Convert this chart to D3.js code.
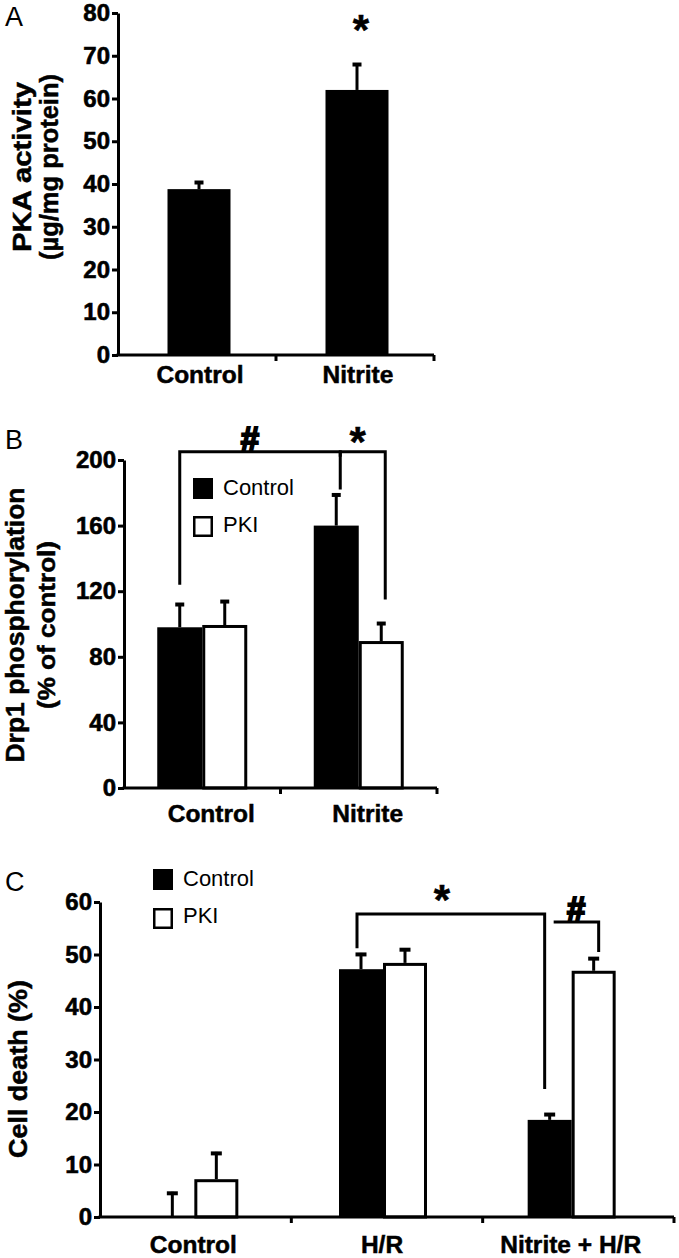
<!DOCTYPE html>
<html><head><meta charset="utf-8">
<script src="https://cdn.jsdelivr.net/npm/d3@7"></script>
<style>
body{margin:0;background:#fff}
svg{display:block}
text{font-family:"Liberation Sans",Arial,Helvetica,sans-serif}
</style>
</head><body>
<svg id="c" width="679" height="1258"></svg>
<script>
// ---------- Panel A ----------
const aCategories = ["Control", "Nitrite"];
const aValues = [38.8, 62.0];
const aErrors = [1.9, 6.3];
const aTicks = [0, 10, 20, 30, 40, 50, 60, 70, 80];
const aSig = ["", "*"];

// ---------- Panel B ----------
const bCategories = ["Control", "Nitrite"];
const bSeries = ["Control", "PKI"];
const bControl = [98.0, 160.0];
const bControlErr = [14.8, 19.6];
const bPKI = [99.4, 89.6];
const bPKIErr = [15.2, 11.6];
const bTicks = [0, 40, 80, 120, 160, 200];
// brackets: [groupIdx, seriesIdx] endpoints, level and leg-end values (data units)
const bBrackets = [
  {label: "#", from: [0, 0], to: [1, 0], level: 205, fromEnd: 124, toEnd: 182},
  {label: "*", from: [1, 0], to: [1, 1], level: 205, fromEnd: 202, toEnd: 115}
];

// ---------- Panel C ----------
const cCategories = ["Control", "H/R", "Nitrite + H/R"];
const cSeries = ["Control", "PKI"];
const cControl = [0, 47.2, 18.5];
const cControlErr = [4.8, 3.1, 1.3];
const cPKI = [7.2, 48.4, 46.9];
const cPKIErr = [5.2, 2.8, 2.6];
const cTicks = [0, 10, 20, 30, 40, 50, 60];
const cBrackets = [
  {label: "*", from: [1, 0], to: [2, 0], level: 57.7, fromEnd: 51.2, toEnd: 24.4},
  {label: "#", from: [2, 0], to: [2, 1], level: 56.2, fromEnd: 56.2, toEnd: 50.5}
];

const FONT = '"Liberation Sans",Arial,Helvetica,sans-serif';
const svg = d3.select("#c");
svg.append("rect").attr("width", 679).attr("height", 1258).attr("fill", "#fff");

function yAxis(y, ticks, x0) {
  const ax = d3.axisLeft(y).tickValues(ticks).tickSize(6).tickSizeOuter(0).tickPadding(2).tickFormat(d3.format("d"));
  const g = svg.append("g").attr("transform", `translate(${x0},0)`).call(ax);
  g.select(".domain").attr("stroke", "#000").attr("stroke-width", 3);
  g.selectAll(".tick line").attr("stroke", "#000").attr("stroke-width", 3);
  g.selectAll(".tick text").attr("font-family", FONT).attr("font-size", 24)
    .attr("font-weight", "bold").attr("fill", "#000").attr("stroke", "#000").attr("stroke-width", 0.6);
}

function xAxis(tickScale, y0, x0) {
  const r = tickScale.range();
  svg.append("line").attr("x1", x0 - 1.5).attr("x2", r[1]).attr("y1", y0).attr("y2", y0)
    .attr("stroke", "#000").attr("stroke-width", 3);
  svg.selectAll(null).data(tickScale.domain()).enter().append("line")
    .attr("x1", d => tickScale(d) + tickScale.bandwidth())
    .attr("x2", d => tickScale(d) + tickScale.bandwidth())
    .attr("y1", y0).attr("y2", y0 + 6).attr("stroke", "#000").attr("stroke-width", 3);
}

function xLabels(scale, cats, y, dx) {
  svg.selectAll(null).data(cats).enter().append("text")
    .attr("x", d => scale(d) + scale.bandwidth() / 2 + dx).attr("y", y)
    .attr("text-anchor", "middle").attr("font-size", 24.5).attr("font-weight", "bold")
    .attr("stroke", "#000").attr("stroke-width", 0.5)
    .attr("font-family", FONT).text(d => d);
}

function errBar(x, yTop, yErr, capW) {
  svg.append("line").attr("x1", x).attr("x2", x).attr("y1", yTop).attr("y2", yErr)
    .attr("stroke", "#000").attr("stroke-width", 3);
  svg.append("line").attr("x1", x - capW / 2).attr("x2", x + capW / 2).attr("y1", yErr + 1.5).attr("y2", yErr + 1.5)
    .attr("stroke", "#000").attr("stroke-width", 4);
}

function bar(x, w, yTop, y0, filled) {
  if (filled) {
    svg.append("rect").attr("x", x).attr("y", yTop).attr("width", w).attr("height", Math.max(0, y0 - yTop)).attr("fill", "#000");
  } else {
    svg.append("rect").attr("x", x + 1.5).attr("y", yTop + 1.5).attr("width", w - 3).attr("height", Math.max(0, y0 - yTop - 1.5))
      .attr("fill", "#fff").attr("stroke", "#000").attr("stroke-width", 3);
  }
}

function yLabel(lines, cx, cy, sizes, lengths) {
  lines.forEach((t, i) => {
    svg.append("text").attr("transform", `translate(${cx[i]},${cy}) rotate(-90)`)
      .attr("text-anchor", "middle").attr("font-size", sizes[i]).attr("font-weight", "bold")
      .attr("stroke", "#000").attr("stroke-width", 0.5)
      .attr("font-family", FONT).attr("textLength", lengths[i]).attr("lengthAdjust", "spacingAndGlyphs").text(t);
  });
}

function sigText(label, x, yc) {
  const isStar = label === "*";
  const fs = isStar ? 42 : 33;
  const off = isStar ? 0.57 * fs : 0.36 * fs;
  svg.append("text").attr("x", x).attr("y", yc + off).attr("text-anchor", "middle")
    .attr("font-size", fs).attr("font-weight", "bold").attr("font-family", FONT)
    .attr("stroke", "#000").attr("stroke-width", isStar ? 0.5 : 2).text(label);
}

function legend(series, x, ys, textX, baselines) {
  series.forEach((s, i) => {
    if (i === 0) svg.append("rect").attr("x", x).attr("y", ys[i]).attr("width", 20).attr("height", 21).attr("fill", "#000");
    else svg.append("rect").attr("x", x + 1.25).attr("y", ys[i] + 1.25).attr("width", 17.5).attr("height", 18.5)
      .attr("fill", "#fff").attr("stroke", "#000").attr("stroke-width", 2.5);
    svg.append("text").attr("x", textX).attr("y", baselines[i]).attr("font-size", 22)
      .attr("font-family", FONT).text(s);
  });
}

function panelLetter(l, x, y) {
  svg.append("text").attr("x", x).attr("y", y).attr("font-size", 27).attr("font-family", FONT).text(l);
}

// ================= Panel A =================
{
  const y = d3.scaleLinear().domain([0, 80]).range([355, 13]);
  const x = d3.scaleBand().domain(aCategories).range([118, 434]);
  const bw = 63;
  aCategories.forEach((c, i) => {
    const cx = x(c) + x.bandwidth() / 2 + 2;
    bar(cx - bw / 2, bw, y(aValues[i]), y(0), true);
    errBar(cx, y(aValues[i]), y(aValues[i] + aErrors[i]), 9);
    if (aSig[i]) sigText(aSig[i], cx + 4, y(aValues[i] + aErrors[i]) - 43);
  });
  yAxis(y, aTicks, 118);
  xAxis(x, y(0), 118);
  xLabels(x, aCategories, 383, 3);
  yLabel(["PKA activity", "(\u00b5g/mg protein)"], [31, 58], 167, [26, 25], [170, 186]);
  panelLetter("A", 5, 26);
}

// ================= Panel B =================
{
  const y = d3.scaleLinear().domain([0, 200]).range([788, 460]);
  const x = d3.scaleBand().domain(bCategories).range([124, 437]);
  const bw = 45;
  const vals = [bControl, bPKI], errs = [bControlErr, bPKIErr];
  const cxOf = (g, s) => x(bCategories[g]) + x.bandwidth() / 2 + (s === 0 ? -bw / 2 : bw / 2);
  bCategories.forEach((c, g) => {
    [0, 1].forEach(s => {
      const cx = cxOf(g, s);
      bar(cx - bw / 2, bw, y(vals[s][g]), y(0), s === 0);
      errBar(cx, y(vals[s][g]), y(vals[s][g] + errs[s][g]), 9);
    });
  });
  bBrackets.forEach((b, i) => {
    const gap = i === 0 ? 0 : 4;
    const x1 = cxOf(b.from[0], b.from[1]) + gap, x2 = cxOf(b.to[0], b.to[1]) + 4;
    svg.append("path").attr("d", `M${x1},${y(b.fromEnd)}V${y(b.level)}H${x2}V${y(b.toEnd)}`)
      .attr("fill", "none").attr("stroke", "#000").attr("stroke-width", 3);
    sigText(b.label, (x1 + x2) / 2 - (b.label === "*" ? 5 : 10), y(b.level) - (b.label === "*" ? 20 : 14));
  });
  yAxis(y, bTicks, 124);
  xAxis(x, y(0), 124);
  xLabels(x, bCategories, 822, 9);
  yLabel(["Drp1 phosphorylation", "(% of control)"], [24, 55], 625, [26, 24], [275, 168]);
  legend(bSeries, 193, [478, 516], 223, [495, 532]);
  panelLetter("B", 5, 449);
}

// ================= Panel C =================
{
  const y = d3.scaleLinear().domain([0, 60]).range([1217, 902]);
  const xTicks = d3.scaleBand().domain(cCategories).range([100, 674]);
  const x = d3.scaleBand().domain(cCategories).range([100, 666]);
  const bw = 44;
  const vals = [cControl, cPKI], errs = [cControlErr, cPKIErr];
  const cxOf = (g, s) => x(cCategories[g]) + x.bandwidth() / 2 + (s === 0 ? -bw / 2 : bw / 2);
  cCategories.forEach((c, g) => {
    [0, 1].forEach(s => {
      const cx = cxOf(g, s);
      if (vals[s][g] > 0) bar(cx - bw / 2, bw, y(vals[s][g]), y(0), s === 0);
      errBar(cx, y(vals[s][g]), y(vals[s][g] + errs[s][g]), 11);
    });
  });
  cBrackets.forEach((b, i) => {
    const gap = i === 0 ? -4 : 4;
    const x1 = cxOf(b.from[0], b.from[1]) + gap, x2 = cxOf(b.to[0], b.to[1]) + (i === 0 ? -5 : 5);
    svg.append("path").attr("d", `M${x1},${y(b.fromEnd)}V${y(b.level)}H${x2}V${y(b.toEnd)}`)
      .attr("fill", "none").attr("stroke", "#000").attr("stroke-width", 3);
    sigText(b.label, (x1 + x2) / 2 - (b.label === "*" ? 9 : 0), y(b.level) - (b.label === "*" ? 24 : 14));
  });
  yAxis(y, cTicks, 100);
  xAxis(xTicks, y(0), 100);
  xLabels(x, cCategories, 1253, -1);
  yLabel(["Cell death (%)"], [27], 1069, [26], [178]);
  legend(cSeries, 153, [869, 908], 183, [886, 923]);
  panelLetter("C", 5, 891);
}
</script>
</body></html>
